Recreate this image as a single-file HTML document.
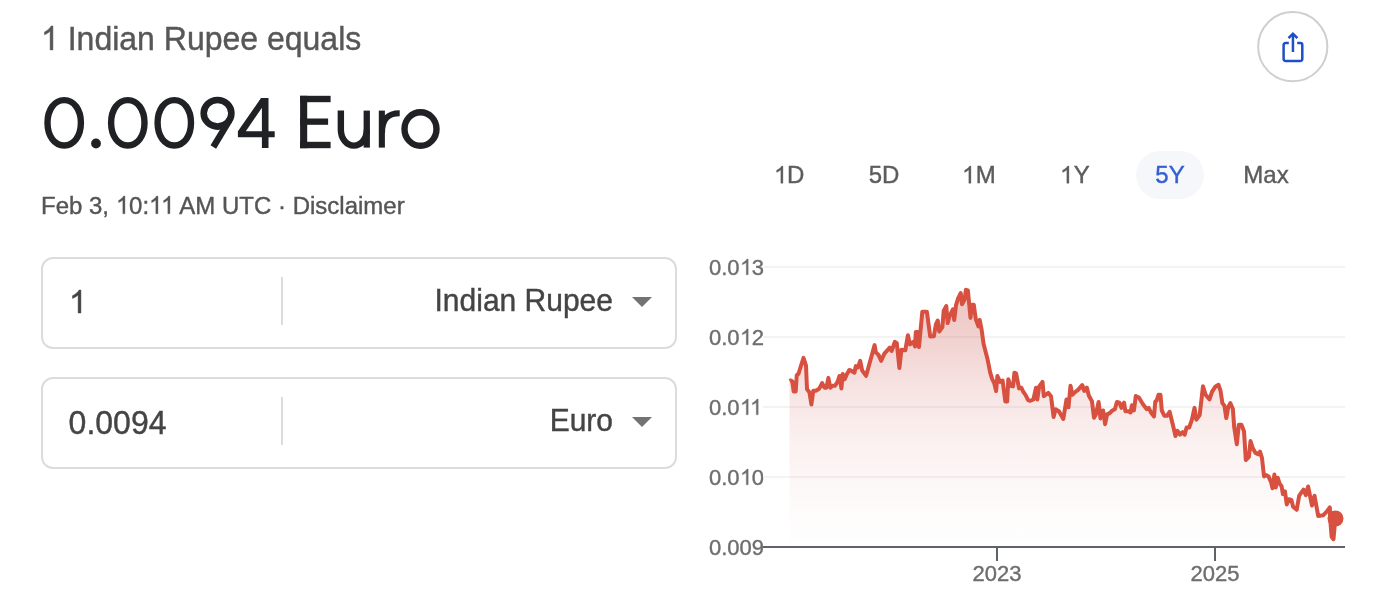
<!DOCTYPE html>
<html><head><meta charset="utf-8">
<style>
html,body{margin:0;padding:0;background:#fff;}
body{width:1384px;height:612px;position:relative;overflow:hidden;font-family:"Liberation Sans",sans-serif;}
#w{position:absolute;left:0;top:0;width:1384px;height:612px;will-change:transform;-webkit-text-stroke:0.4px currentColor;}
.a{position:absolute;white-space:nowrap;}
.one{width:0.5562em;height:0.71875em;vertical-align:baseline;fill:currentColor;overflow:visible;stroke:currentColor;stroke-width:30;}
.t1{left:41px;top:20px;font-size:32px;line-height:37px;color:#575757;transform-origin:0 7px;transform:scaleY(1.04);}
.bn{left:40.5px;top:84px;font-size:72px;line-height:80px;color:#202124;transform-origin:0 63px;transform:scale(1.079,1.0);}
.be{left:294px;top:83px;font-size:72px;line-height:80px;color:#202124;transform-origin:0 63px;transform:scale(0.985,1.03);}
.date{left:41px;top:191px;font-size:24px;line-height:28px;color:#555;transform-origin:0 5px;transform:scaleY(1.03);}
.box{position:absolute;left:41px;width:632px;height:88px;border:2px solid #dadce0;border-radius:12px;}
.inp{position:absolute;left:25.6px;font-size:32px;line-height:37px;color:#444;}
.inp.s{transform-origin:0 18.5px;transform:scaleY(1.06);}
.div{position:absolute;left:238px;top:18px;width:2px;height:48px;background:#dadce0;}
.cur{position:absolute;right:62px;font-size:30px;line-height:35px;color:#444;transform-origin:0 29px;transform:scaleY(1.05);}
.tri{position:absolute;left:589px;width:0;height:0;border-left:10px solid transparent;border-right:10px solid transparent;border-top:10px solid #737373;}
.rng{position:absolute;top:151px;height:48px;width:68px;border-radius:24px;font-size:24px;line-height:48px;text-align:center;color:#5c5c5c;}
.rng.sel{background:#f5f7fa;color:#3560d0;}
.ylab{position:absolute;left:709px;font-size:22px;line-height:26px;color:#6e6e6e;}
.xlab{position:absolute;font-size:22px;line-height:26px;color:#6e6e6e;width:80px;text-align:center;}
</style></head><body>
<svg width="0" height="0" style="position:absolute"><defs><path id="g1" d="M763 1472 L583 1472 L583 325 Q518 387 412 449 Q306 511 222 542 L222 368 Q373 297 486 196 Q599 95 646 0 L763 0 Z"/></defs></svg>
<div id="w">
<div class="a t1"><svg class="one" viewBox="0 0 1139 1472"><use href="#g1"/></svg> Indian Rupee equals</div>
<svg class="a" style="left:0;top:0" width="460" height="170" viewBox="0 0 460 170">
  <g fill="none" stroke="#202124" stroke-width="6.4">
    <path d="M64.2 100.10 C73.89 100.10 80.90 109.63 80.90 122.8 C80.90 135.97 73.89 145.50 64.2 145.50 C54.51 145.50 47.50 135.97 47.50 122.8 C47.50 109.63 54.51 100.10 64.2 100.10 Z"/>
    <path d="M127.8 100.10 C137.49 100.10 144.50 109.63 144.50 122.8 C144.50 135.97 137.49 145.50 127.8 145.50 C118.11 145.50 111.10 135.97 111.10 122.8 C111.10 109.63 118.11 100.10 127.8 100.10 Z"/>
    <path d="M174.3 100.10 C183.99 100.10 191.00 109.63 191.00 122.8 C191.00 135.97 183.99 145.50 174.3 145.50 C164.61 145.50 157.60 135.97 157.60 122.8 C157.60 109.63 164.61 100.10 174.3 100.10 Z"/>
    <ellipse cx="217.55" cy="113.3" rx="13.85" ry="13.3" stroke-width="6.6"/>
    
    <path d="M340.85 110.6 V129.7 A13 15.9 0 0 0 366.85 129.7"/>
    <path d="M382 133 C382 118.5 388.5 113.3 399.7 113.3" stroke-width="6.1"/>
    <ellipse cx="420.5" cy="129" rx="16" ry="16.8"/>
  </g>
  <g fill="#202124">
    <circle cx="96" cy="143.5" r="4.9"/>
    <path d="M210.53 145.35 L216.1 148.7 L232.14 122.06 L228.07 116.21 Z"/>
    <path fill-rule="evenodd" d="M261 98.1 L268.5 98.1 L268.5 131.2 L274.7 131.2 L274.7 137.3 L268.5 137.3 L268.5 147.9 L261.9 147.9 L261.9 137.3 L237.9 137.3 L237.9 131.2 Z M261.9 107.7 L261.9 131.2 L245.8 131.2 Z"/>
    <rect x="300.1" y="95.8" width="7.1" height="52.4"/>
    <rect x="300.1" y="95.8" width="30.5" height="6.4"/>
    <rect x="300.1" y="118.5" width="28" height="6.3"/>
    <rect x="300.1" y="141.8" width="30.5" height="6.4"/>
    <rect x="363.6" y="110.6" width="6.3" height="37"/>
    <rect x="378.8" y="110.6" width="6.1" height="37"/>
  </g>
</svg>
<div class="a date">Feb 3, <svg class="one" viewBox="0 0 1139 1472"><use href="#g1"/></svg>0:<svg class="one" viewBox="0 0 1139 1472"><use href="#g1"/></svg><svg class="one" style="margin-left:-0.0742em" viewBox="0 0 1139 1472"><use href="#g1"/></svg> AM UTC · Disclaimer</div>

<div class="box" style="top:257px;">
  <div class="inp" style="top:25px;"><svg class="one" viewBox="0 0 1139 1472"><use href="#g1"/></svg></div>
  <div class="div"></div>
  <div class="cur" style="top:23.5px;">Indian Rupee</div>
  <div class="tri" style="top:38px;"></div>
</div>
<div class="box" style="top:377px;">
  <div class="inp s" style="top:25px;">0.0094</div>
  <div class="div"></div>
  <div class="cur" style="top:23.5px;">Euro</div>
  <div class="tri" style="top:38px;"></div>
</div>

<div class="rng" style="left:755px;"><svg class="one" viewBox="0 0 1139 1472"><use href="#g1"/></svg>D</div>
<div class="rng" style="left:850px;">5D</div>
<div class="rng" style="left:945px;"><svg class="one" viewBox="0 0 1139 1472"><use href="#g1"/></svg>M</div>
<div class="rng" style="left:1041px;"><svg class="one" viewBox="0 0 1139 1472"><use href="#g1"/></svg>Y</div>
<div class="rng sel" style="left:1136px;">5Y</div>
<div class="rng" style="left:1232px;">Max</div>

<div class="ylab" style="top:254.5px;">0.0<svg class="one" viewBox="0 0 1139 1472"><use href="#g1"/></svg>3</div>
<div class="ylab" style="top:324.5px;">0.0<svg class="one" viewBox="0 0 1139 1472"><use href="#g1"/></svg>2</div>
<div class="ylab" style="top:394.5px;">0.0<svg class="one" viewBox="0 0 1139 1472"><use href="#g1"/></svg><svg class="one" style="margin-left:-0.0742em" viewBox="0 0 1139 1472"><use href="#g1"/></svg></div>
<div class="ylab" style="top:464.5px;">0.0<svg class="one" viewBox="0 0 1139 1472"><use href="#g1"/></svg>0</div>
<div class="ylab" style="top:534.5px;">0.009</div>
<div class="xlab" style="left:957px;top:561px;">2023</div>
<div class="xlab" style="left:1175px;top:561px;">2025</div>

<svg class="a" style="left:0;top:0" width="1384" height="612" viewBox="0 0 1384 612">
  <defs>
    <linearGradient id="g" gradientUnits="userSpaceOnUse" x1="0" y1="289" x2="0" y2="546">
      <stop offset="0" stop-color="#cc5a52" stop-opacity="0.36"/>
      <stop offset="0.2" stop-color="#cc5a52" stop-opacity="0.27"/>
      <stop offset="0.4" stop-color="#cc5a52" stop-opacity="0.16"/>
      <stop offset="0.6" stop-color="#cc5a52" stop-opacity="0.085"/>
      <stop offset="0.75" stop-color="#cc5a52" stop-opacity="0.05"/>
      <stop offset="0.9" stop-color="#cc5a52" stop-opacity="0.018"/>
      <stop offset="1" stop-color="#cc5a52" stop-opacity="0"/>
    </linearGradient>
  </defs>
  <g fill="#f3f3f3">
    <rect x="763" y="266" width="582" height="2"/>
    <rect x="763" y="336" width="582" height="2"/>
    <rect x="763" y="406" width="582" height="2"/>
    <rect x="763" y="476" width="582" height="2"/>
  </g>
  <path d="M789.5 380.9 L790.8 380.4 L792.3 381.4 L793.7 391.5 L795.7 391.5 L796.7 375.5 L798.6 373.5 L800.9 366.0 L803.5 357.8 L806.0 365.7 L807.0 389.2 L809.4 392.2 L811.4 404.5 L813.3 390.7 L815.8 390.7 L819.2 388.7 L822.1 383.1 L824.4 387.7 L826.4 387.7 L828.4 377.9 L830.3 387.7 L832.3 385.8 L834.9 385.8 L837.5 381.8 L839.5 376.0 L841.4 388.4 L842.7 374.0 L844.7 379.2 L846.7 374.6 L849.3 370.0 L851.2 370.7 L854.5 372.7 L855.8 366.1 L857.8 367.5 L860.2 360.8 L862.2 370.6 L866.1 375.8 L874.6 345.1 L875.9 352.3 L878.5 354.9 L881.1 360.8 L884.4 353.6 L889.6 347.7 L891.6 351.0 L894.9 341.8 L896.8 343.1 L899.4 368.0 L901.4 349.7 L905.3 350.3 L907.9 335.3 L909.9 344.4 L913.2 341.8 L915.1 346.4 L915.8 332.0 L917.7 332.0 L919.0 347.1 L922.3 311.8 L926.9 311.8 L930.2 336.6 L933.9 336.2 L935.9 324.4 L937.8 320.5 L939.2 331.6 L942.4 327.1 L943.7 310.7 L946.3 306.1 L947.6 323.1 L949.6 316.0 L952.9 309.4 L954.2 319.9 L956.1 304.8 L958.1 298.3 L960.7 293.1 L962.0 304.2 L964.6 299.6 L965.9 289.8 L967.9 290.5 L970.5 317.9 L971.8 304.8 L973.8 304.8 L975.8 319.2 L978.4 326.4 L979.7 319.9 L981.6 329.7 L983.6 344.1 L987.6 359.6 L990.2 372.7 L992.2 379.2 L994.2 383.1 L996.1 391.0 L997.4 376.0 L1000.0 381.8 L1002.6 380.5 L1005.3 401.4 L1007.2 401.4 L1008.3 379.2 L1010.5 385.8 L1013.1 386.4 L1014.4 372.7 L1016.1 373.3 L1019.0 388.4 L1021.3 387.7 L1023.6 392.3 L1025.5 394.9 L1028.1 400.1 L1030.1 400.8 L1033.4 399.5 L1036.0 387.7 L1037.3 399.5 L1039.2 386.4 L1042.5 381.8 L1043.8 396.2 L1048.4 392.9 L1051.0 396.2 L1053.6 417.1 L1055.6 409.3 L1058.9 411.2 L1063.3 419.0 L1066.5 399.4 L1068.5 407.3 L1070.5 385.7 L1072.4 394.8 L1075.0 392.2 L1078.3 389.6 L1082.2 385.0 L1084.2 390.9 L1086.8 387.6 L1088.8 395.5 L1092.0 401.4 L1094.0 417.7 L1095.9 414.4 L1098.6 402.0 L1100.5 418.4 L1103.1 410.5 L1105.1 424.2 L1107.1 414.4 L1109.7 413.1 L1112.3 410.5 L1114.9 409.2 L1116.9 402.0 L1119.5 402.7 L1121.4 407.9 L1124.1 402.7 L1125.4 411.2 L1128.6 411.2 L1130.6 412.5 L1131.9 405.3 L1133.9 410.5 L1135.8 396.1 L1138.9 397.5 L1142.8 404.0 L1146.8 409.2 L1148.7 407.9 L1151.3 413.1 L1154.0 416.4 L1155.3 401.4 L1156.6 400.7 L1158.5 394.8 L1160.5 394.8 L1161.8 410.5 L1164.4 415.8 L1167.0 415.8 L1169.6 411.8 L1172.9 424.9 L1175.5 436.0 L1177.5 430.8 L1180.1 434.7 L1182.7 432.1 L1184.7 434.7 L1186.6 427.5 L1189.2 427.5 L1191.9 419.7 L1194.5 407.9 L1196.4 419.7 L1199.7 415.1 L1203.0 386.3 L1205.6 394.8 L1209.5 399.4 L1212.1 391.6 L1215.2 386.8 L1218.5 384.8 L1220.5 390.7 L1222.4 403.1 L1224.4 405.7 L1226.3 418.1 L1228.3 407.0 L1230.3 403.1 L1232.9 409.0 L1234.2 427.3 L1236.8 444.3 L1238.8 424.7 L1241.4 424.7 L1244.0 431.2 L1245.8 460.0 L1248.9 456.8 L1250.5 441.1 L1252.8 448.3 L1255.5 452.9 L1258.1 454.2 L1260.0 451.6 L1262.0 458.1 L1264.0 476.4 L1265.9 475.1 L1268.5 476.4 L1271.1 482.3 L1272.5 488.2 L1274.4 474.4 L1275.7 487.5 L1277.7 477.7 L1279.6 483.6 L1281.6 486.2 L1282.9 494.1 L1284.9 491.4 L1286.8 504.5 L1288.8 499.3 L1291.4 499.9 L1293.1 506.7 L1296.7 509.8 L1299.2 495.7 L1303.5 489.6 L1305.9 495.1 L1308.1 486.5 L1312.0 505.5 L1314.5 495.7 L1318.2 515.9 L1323.1 515.3 L1326.7 511.6 L1329.8 507.3 L1330.4 521.4 L1331.6 536.7 L1333.5 539.2 L1334.7 525.1 L1335.9 518.4 L1335.9 546 L789.5 546 Z" fill="url(#g)"/>
  <rect x="763" y="546" width="582" height="2" fill="#5f6368"/>
  <rect x="996" y="547" width="2" height="14" fill="#5f6368"/>
  <rect x="1214" y="547" width="2" height="14" fill="#5f6368"/>
  <path d="M789.5 380.9 L790.8 380.4 L792.3 381.4 L793.7 391.5 L795.7 391.5 L796.7 375.5 L798.6 373.5 L800.9 366.0 L803.5 357.8 L806.0 365.7 L807.0 389.2 L809.4 392.2 L811.4 404.5 L813.3 390.7 L815.8 390.7 L819.2 388.7 L822.1 383.1 L824.4 387.7 L826.4 387.7 L828.4 377.9 L830.3 387.7 L832.3 385.8 L834.9 385.8 L837.5 381.8 L839.5 376.0 L841.4 388.4 L842.7 374.0 L844.7 379.2 L846.7 374.6 L849.3 370.0 L851.2 370.7 L854.5 372.7 L855.8 366.1 L857.8 367.5 L860.2 360.8 L862.2 370.6 L866.1 375.8 L874.6 345.1 L875.9 352.3 L878.5 354.9 L881.1 360.8 L884.4 353.6 L889.6 347.7 L891.6 351.0 L894.9 341.8 L896.8 343.1 L899.4 368.0 L901.4 349.7 L905.3 350.3 L907.9 335.3 L909.9 344.4 L913.2 341.8 L915.1 346.4 L915.8 332.0 L917.7 332.0 L919.0 347.1 L922.3 311.8 L926.9 311.8 L930.2 336.6 L933.9 336.2 L935.9 324.4 L937.8 320.5 L939.2 331.6 L942.4 327.1 L943.7 310.7 L946.3 306.1 L947.6 323.1 L949.6 316.0 L952.9 309.4 L954.2 319.9 L956.1 304.8 L958.1 298.3 L960.7 293.1 L962.0 304.2 L964.6 299.6 L965.9 289.8 L967.9 290.5 L970.5 317.9 L971.8 304.8 L973.8 304.8 L975.8 319.2 L978.4 326.4 L979.7 319.9 L981.6 329.7 L983.6 344.1 L987.6 359.6 L990.2 372.7 L992.2 379.2 L994.2 383.1 L996.1 391.0 L997.4 376.0 L1000.0 381.8 L1002.6 380.5 L1005.3 401.4 L1007.2 401.4 L1008.3 379.2 L1010.5 385.8 L1013.1 386.4 L1014.4 372.7 L1016.1 373.3 L1019.0 388.4 L1021.3 387.7 L1023.6 392.3 L1025.5 394.9 L1028.1 400.1 L1030.1 400.8 L1033.4 399.5 L1036.0 387.7 L1037.3 399.5 L1039.2 386.4 L1042.5 381.8 L1043.8 396.2 L1048.4 392.9 L1051.0 396.2 L1053.6 417.1 L1055.6 409.3 L1058.9 411.2 L1063.3 419.0 L1066.5 399.4 L1068.5 407.3 L1070.5 385.7 L1072.4 394.8 L1075.0 392.2 L1078.3 389.6 L1082.2 385.0 L1084.2 390.9 L1086.8 387.6 L1088.8 395.5 L1092.0 401.4 L1094.0 417.7 L1095.9 414.4 L1098.6 402.0 L1100.5 418.4 L1103.1 410.5 L1105.1 424.2 L1107.1 414.4 L1109.7 413.1 L1112.3 410.5 L1114.9 409.2 L1116.9 402.0 L1119.5 402.7 L1121.4 407.9 L1124.1 402.7 L1125.4 411.2 L1128.6 411.2 L1130.6 412.5 L1131.9 405.3 L1133.9 410.5 L1135.8 396.1 L1138.9 397.5 L1142.8 404.0 L1146.8 409.2 L1148.7 407.9 L1151.3 413.1 L1154.0 416.4 L1155.3 401.4 L1156.6 400.7 L1158.5 394.8 L1160.5 394.8 L1161.8 410.5 L1164.4 415.8 L1167.0 415.8 L1169.6 411.8 L1172.9 424.9 L1175.5 436.0 L1177.5 430.8 L1180.1 434.7 L1182.7 432.1 L1184.7 434.7 L1186.6 427.5 L1189.2 427.5 L1191.9 419.7 L1194.5 407.9 L1196.4 419.7 L1199.7 415.1 L1203.0 386.3 L1205.6 394.8 L1209.5 399.4 L1212.1 391.6 L1215.2 386.8 L1218.5 384.8 L1220.5 390.7 L1222.4 403.1 L1224.4 405.7 L1226.3 418.1 L1228.3 407.0 L1230.3 403.1 L1232.9 409.0 L1234.2 427.3 L1236.8 444.3 L1238.8 424.7 L1241.4 424.7 L1244.0 431.2 L1245.8 460.0 L1248.9 456.8 L1250.5 441.1 L1252.8 448.3 L1255.5 452.9 L1258.1 454.2 L1260.0 451.6 L1262.0 458.1 L1264.0 476.4 L1265.9 475.1 L1268.5 476.4 L1271.1 482.3 L1272.5 488.2 L1274.4 474.4 L1275.7 487.5 L1277.7 477.7 L1279.6 483.6 L1281.6 486.2 L1282.9 494.1 L1284.9 491.4 L1286.8 504.5 L1288.8 499.3 L1291.4 499.9 L1293.1 506.7 L1296.7 509.8 L1299.2 495.7 L1303.5 489.6 L1305.9 495.1 L1308.1 486.5 L1312.0 505.5 L1314.5 495.7 L1318.2 515.9 L1323.1 515.3 L1326.7 511.6 L1329.8 507.3 L1330.4 521.4 L1331.6 536.7 L1333.5 539.2 L1334.7 525.1 L1335.9 518.4" fill="none" stroke="#d8503f" stroke-width="4" stroke-linejoin="round" stroke-linecap="butt"/>
  <circle cx="1335.5" cy="518.5" r="8" fill="#d8503f"/>
  <circle cx="1292.75" cy="46.7" r="34.6" fill="#fff" stroke="#cfcfcf" stroke-width="2"/>
  <g fill="none" stroke="#1f4fc6" stroke-width="2.5">
    <path d="M1288.8 43.1 H1285.5 a1.9 1.9 0 0 0 -1.9 1.9 V59 a1.9 1.9 0 0 0 1.9 1.9 H1300.4 a1.9 1.9 0 0 0 1.9 -1.9 V45 a1.9 1.9 0 0 0 -1.9 -1.9 H1297.2"/>
    <path d="M1292.95 52 V34.5"/>
    <path d="M1288.5 38.2 L1292.95 33.8 L1297.4 38.2"/>
  </g>
</svg>
</div>
</body></html>
